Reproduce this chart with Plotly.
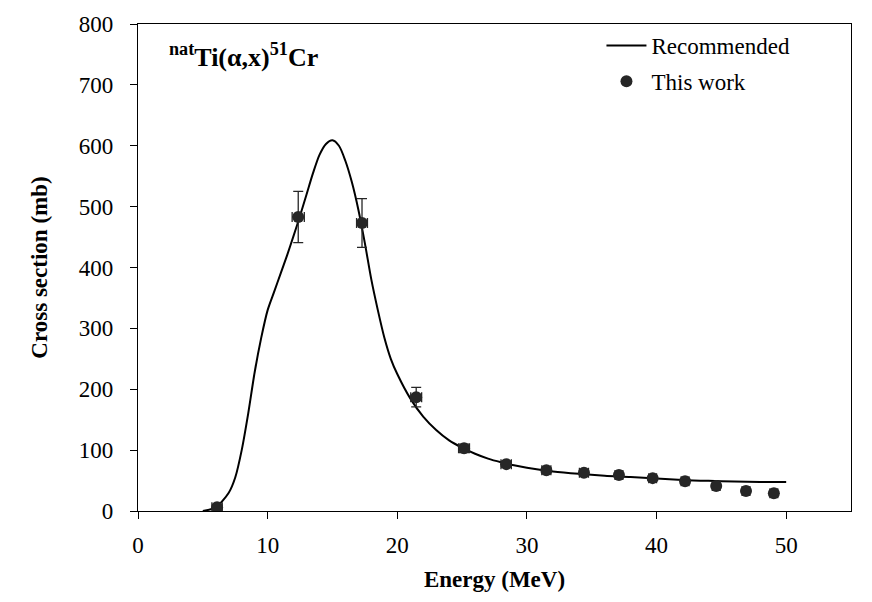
import plotly.graph_objects as go

# Recommended curve
rec_energy = [5.0, 6.0, 7.0, 7.5, 8.0, 8.5, 9.0, 9.5, 10.0, 10.5, 11.0, 11.5, 12.0, 12.5,
              13.0, 13.5, 14.0, 14.5, 15.0, 15.5, 16.0, 16.5, 17.0, 17.5, 18.0, 18.5,
              19.0, 19.5, 20.0, 21.0, 22.0, 23.0, 24.0, 25.0, 26.0, 27.0, 28.0, 29.0,
              30.0, 32.0, 34.0, 36.0, 38.0, 40.0, 42.0, 44.0, 46.0, 48.0, 50.0]
rec_xs = [0, 6, 30, 55, 100, 160, 228, 284, 330, 360, 390, 420, 452, 485,
          520, 555, 585, 603, 609, 600, 575, 540, 495, 440, 380, 330,
          285, 250, 225, 185, 155, 133, 116, 104, 94, 86, 80, 75,
          71, 65, 61, 58, 56, 53.5, 51, 49.5, 48.5, 47.8, 47.5]

# This work (measured points)
exp_energy = [6.1, 12.36, 17.28, 21.46, 25.15, 28.4, 31.5, 34.4, 37.1, 39.7, 42.2, 44.6, 46.9, 49.05]
exp_xs = [6, 483, 473, 187, 103, 77, 67, 63, 59, 54, 49, 41, 33, 29]
exp_dxs = [2, 42, 40, 16, 7, 5, 4, 4, 4, 3, 3, 3, 2, 2]
exp_de = [0.4, 0.47, 0.42, 0.42, 0.42, 0.4, 0.35, 0.35, 0.3, 0.3, 0.3, 0.3, 0.3, 0.3]

x_ticks = [0, 10, 20, 30, 40, 50]
y_ticks = [0, 100, 200, 300, 400, 500, 600, 700, 800]

FONT = "Liberation Serif, Times New Roman, serif"

fig = go.Figure()
fig.add_trace(go.Scatter(
    x=rec_energy, y=rec_xs, mode="lines", name="Recommended", legendgroup="a",
    line=dict(color="black", width=2, shape="spline", smoothing=0.8),
))
fig.add_trace(go.Scatter(
    x=exp_energy, y=exp_xs, mode="markers", name="This work", legendgroup="b",
    marker=dict(color="#262626", size=12, symbol="circle"),
    error_y=dict(type="data", array=exp_dxs, visible=True, color="#262626", thickness=1.3, width=5),
    error_x=dict(type="data", array=exp_de, visible=True, color="#262626", thickness=1.3, width=5),
))

fig.add_annotation(
    x=0.04, y=0.935, xref="paper", yref="paper", xanchor="left", yanchor="middle",
    text="<sup>nat</sup>Ti(α,x)<sup>51</sup>Cr", showarrow=False,
    font=dict(family=FONT, size=26, color="black", weight="bold"),
)

fig.update_layout(
    width=872, height=602,
    margin=dict(l=138, r=21, t=18, b=91),
    paper_bgcolor="white", plot_bgcolor="white",
    font=dict(family=FONT, size=23, color="black"),
    showlegend=True,
    legend=dict(x=0.65, y=1.0, xanchor="left", yanchor="top",
                bgcolor="rgba(0,0,0,0)", font=dict(family=FONT, size=23),
                itemwidth=40, tracegroupgap=3),
)
fig.update_xaxes(
    range=[0, 55], tickvals=x_ticks, ticks="outside", ticklen=7, tickcolor="black",
    showline=True, linecolor="black", linewidth=1.3, mirror=True,
    showgrid=False, zeroline=False, ticklabelstandoff=6,
    tickfont=dict(family=FONT, size=23),
    title=dict(text="Energy (MeV)", font=dict(family=FONT, size=23, weight="bold"), standoff=14),
)
fig.update_yaxes(
    range=[0, 800], tickvals=y_ticks, ticks="outside", ticklen=7, tickcolor="black",
    showline=True, linecolor="black", linewidth=1.3, mirror=True,
    showgrid=False, zeroline=False, ticklabelstandoff=12,
    tickfont=dict(family=FONT, size=23),
    title=dict(text="Cross section (mb)", font=dict(family=FONT, size=23, weight="bold"), standoff=24),
)

fig.write_html("out.html")
